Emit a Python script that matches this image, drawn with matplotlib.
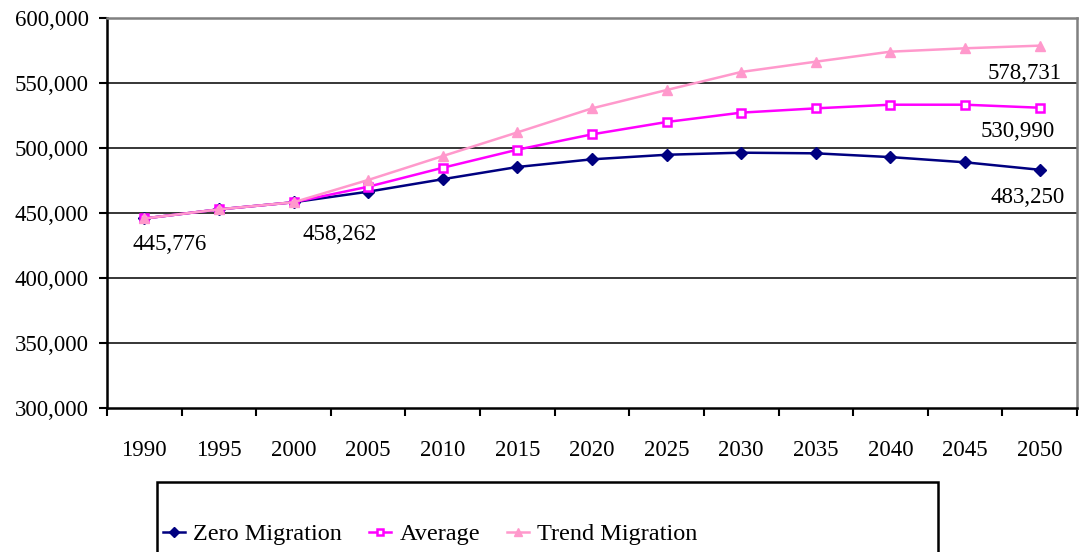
import matplotlib

matplotlib.use("Agg")
import matplotlib.pyplot as plt  # noqa: E402
from matplotlib.patches import Rectangle  # noqa: E402
from matplotlib.ticker import FuncFormatter  # noqa: E402

YEARS = [1990, 1995, 2000, 2005, 2010, 2015, 2020, 2025, 2030, 2035, 2040, 2045, 2050]

# population projections
ZERO = [445776, 452800, 458262, 466400, 476000, 485400, 491300, 494800,
        496400, 495900, 493000, 489000, 483250]
AVERAGE = [445776, 452800, 458262, 470200, 484800, 498700, 510500, 520000,
           527200, 530500, 533300, 533300, 530990]
TREND = [445776, 452800, 458262, 475400, 493800, 512000, 530500, 544600,
         558500, 566400, 574100, 576700, 578731]

# (series index, year index, label offset in points)
LABELS = [
    (0, 0, (18, -19)),
    (0, 2, (33, -23)),
    (2, 12, (-11, -20)),
    (1, 12, (-16, -17)),
    (0, 12, (-9, -20)),
]

plt.rcParams["font.family"] = ["Liberation Serif", "DejaVu Serif"]

W, H = 1081, 552
fig = plt.figure(figsize=(W / 100, H / 100), dpi=100)
ax = fig.add_axes([107 / W, 1 - 408 / H, 970 / W, 390 / H])

x = list(range(len(YEARS)))
series = [
    ("Zero Migration", ZERO, dict(color="#000080", marker="D", markersize=6,
                                  markerfacecolor="#000080")),
    ("Average", AVERAGE, dict(color="#FF00FF", marker="s", markersize=5.5,
                              markerfacecolor="white", markeredgewidth=1.8)),
    ("Trend Migration", TREND, dict(color="#FF99CC", marker="^", markersize=7,
                                    markerfacecolor="#FF99CC")),
]
for name, vals, style in series:
    ax.plot(x, vals, linewidth=1.8, label=name, zorder=3, **style)

for si, yi, off in LABELS:
    v = series[si][1][yi]
    ax.annotate(f"{v:,}", (x[yi], v), xytext=off, textcoords="offset points",
                ha="center", va="center", fontsize=16.5, zorder=4)

ax.set_xlim(-0.5, len(YEARS) - 0.5)
ax.set_ylim(300000, 600000)
ax.set_yticks(range(300000, 600001, 50000))
ax.yaxis.set_major_formatter(FuncFormatter(lambda v, _: f"{int(v):,}"))
for v in range(350000, 600000, 50000):
    ax.axhline(v, color="black", linewidth=1.1, zorder=1)

ax.set_xticks(x)
ax.set_xticklabels([str(y) for y in YEARS])
ax.set_xticks([i - 0.5 for i in range(len(YEARS) + 1)], minor=True)
ax.tick_params(axis="x", which="major", length=0, pad=23, labelsize=16.5)
ax.tick_params(axis="x", which="minor", length=6, width=1.5, direction="out")
ax.tick_params(axis="y", length=6, width=1.5, direction="out", pad=7, labelsize=16.5)

ax.spines["left"].set_linewidth(1.8)
ax.spines["bottom"].set_linewidth(1.8)
ax.spines["top"].set_color("#808080")
ax.spines["right"].set_color("#808080")
ax.spines["top"].set_linewidth(1.8)
ax.spines["right"].set_linewidth(1.8)

# legend box runs off the bottom of the image, as in the source chart
fig.patches.append(Rectangle((157 / W, -0.05), (938 - 157) / W, 1 - 482 / H + 0.05,
                             transform=fig.transFigure, fill=False,
                             edgecolor="black", linewidth=1.8))
fig.legend(loc="center left", bbox_to_anchor=(163 / W, 1 - 534 / H),
           ncols=3, fontsize=17.5, frameon=False, borderpad=0, borderaxespad=0,
           columnspacing=1.1, handlelength=0.9, handletextpad=0.35,
           markerscale=0.8)

fig.savefig("out.png", dpi=100)
